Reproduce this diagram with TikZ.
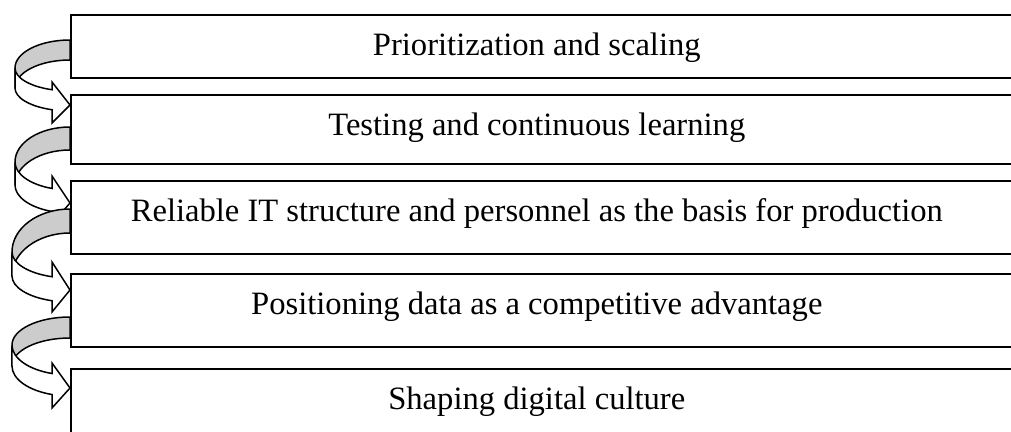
\documentclass[tikz,border=0pt]{standalone}
\usepackage{fontspec}
\setmainfont{Liberation Serif}
\tikzset{
  stagebox/.style={draw=black, line width=1.6pt, fill=white, rectangle, anchor=north west,
    minimum width=960pt, inner ysep=0pt, inner xsep=0pt, text height=41pt,
    font=\fontsize{32.6}{39}\selectfont, execute at begin node={\hspace*{-28pt}}},
  ribback/.style={draw=black, line width=1.5pt, fill=black!20, line join=round},
  ribfront/.style={draw=black, line width=1.5pt, fill=white, line join=miter},
}
\newcommand\ribbonarrow[8]{%
  \pgfmathsetmacro\rR{70-#3}%
  \pgfmathsetmacro\ra{180-acos(18/\rR)}%
  \pgfmathsetmacro\rya{#4-#1}%
  \pgfmathsetmacro\rs{#4+#2+#5*sin(\ra)}%
  \draw[ribback] (70,#1) arc[start angle=270,end angle=180,x radius=\rR,y radius=\rya]
     -- ++(0,#2) arc[start angle=180,end angle=270,x radius=\rR,y radius=\rya] -- cycle;
  \draw[ribfront] (#3,#4) arc[start angle=180,end angle=\ra,x radius=\rR,y radius=#5]
     -- (52,#6) -- (70,#7) -- (52,#8) -- (52,\rs)
     arc[start angle=\ra,end angle=180,x radius=\rR,y radius=#5] -- cycle;
}
\begin{document}
\begin{tikzpicture}[x=1pt,y=-1pt]
\useasboundingbox (0,0) rectangle (1011,431);
\clip (0,0) rectangle (1011,431);
\node[stagebox, text depth=22pt] (s1) at (70,14) {Prioritization and scaling};
\node[stagebox, text depth=28pt] (s2) at (70,94) {Testing and continuous learning};
\node[stagebox, text depth=32pt] (s3) at (70,180) {Reliable IT structure and personnel as the basis for production};
\node[stagebox, text depth=32pt] (s4) at (70,273) {Positioning data as a competitive advantage};
\node[stagebox, text depth=39pt] (s5) at (70,368) {Shaping digital culture};
\ribbonarrow{40}{20}{15}{68}{23}{82}{105}{123}
\ribbonarrow{127}{23}{15}{162}{28}{176}{203}{224}
\ribbonarrow{209}{24}{12}{252}{26}{262}{290}{312}
\ribbonarrow{317}{21}{12}{345}{30}{363}{388}{408}
\end{tikzpicture}
\end{document}
